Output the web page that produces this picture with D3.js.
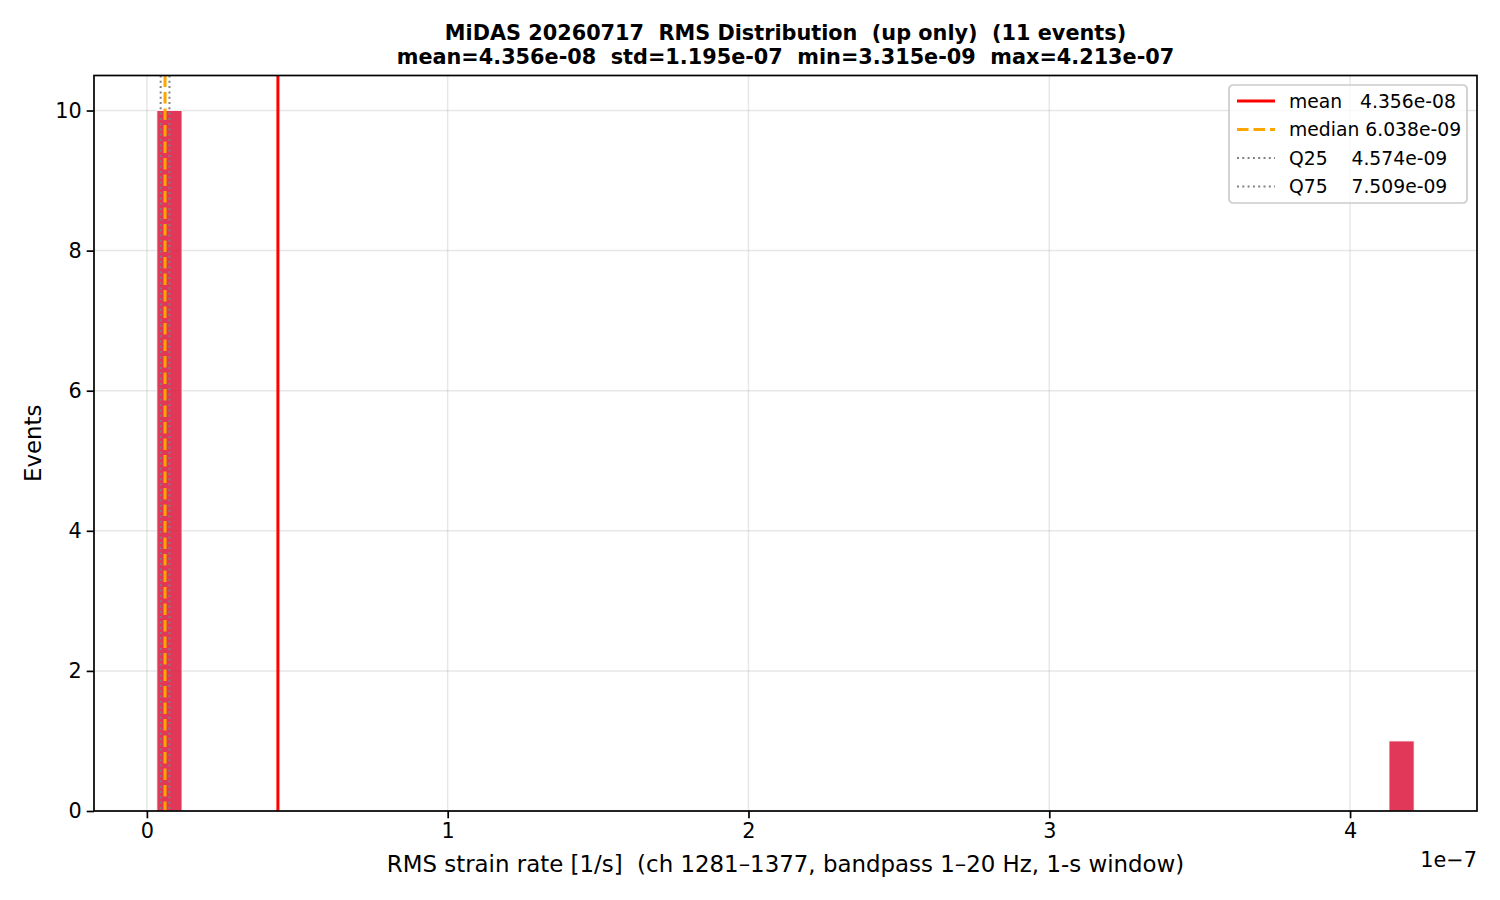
<!DOCTYPE html>
<html>
<head>
<meta charset="utf-8">
<script src="https://cdn.jsdelivr.net/npm/d3@7"></script>
<style>
  html, body { margin: 0; padding: 0; background: #fff; }
  svg { display: block; font-family: "DejaVu Sans", sans-serif; }
  text { white-space: pre; }
</style>
</head>
<body>
<div id="chart"></div>
<script>
(function () {

  // ── Data ───────────────────────────────────────────────────────────────
  var TITLE_LINES = [
    "MiDAS 20260717  RMS Distribution  (up only)  (11 events)",
    "mean=4.356e-08  std=1.195e-07  min=3.315e-09  max=4.213e-07"
  ];
  var X_LABEL = "RMS strain rate [1/s]  (ch 1281\u20131377, bandpass 1\u201320 Hz, 1-s window)";
  var Y_LABEL = "Events";

  // histogram: 50 equal bins between min and max
  var BIN_MIN = 3.315e-9;
  var BIN_MAX = 4.213e-7;
  var BIN_COUNTS = [10, 0, 0, 0, 0, 0, 0, 0, 0, 0,
                    0, 0, 0, 0, 0, 0, 0, 0, 0, 0,
                    0, 0, 0, 0, 0, 0, 0, 0, 0, 0,
                    0, 0, 0, 0, 0, 0, 0, 0, 0, 0,
                    0, 0, 0, 0, 0, 0, 0, 0, 0, 1];

  var STAT_NAMES  = ["mean", "median", "Q25", "Q75"];
  var STAT_VALUES = [4.356e-8, 6.038e-9, 4.574e-9, 7.509e-9];
  var STAT_LABELS = ["mean   4.356e-08", "median 6.038e-09", "Q25    4.574e-09", "Q75    7.509e-09"];

  var X_TICKS = [0, 1e-7, 2e-7, 3e-7, 4e-7];
  var X_TICK_LABELS = ["0", "1", "2", "3", "4"];
  var Y_TICKS = [0, 2, 4, 6, 8, 10];

  // ── Layout ─────────────────────────────────────────────────────────────
  var W = 1500, H = 900;
  var M = { left: 94, right: 1477, top: 75.5, bottom: 811 };

  var svg = d3.select("#chart").append("svg")
    .attr("width", W).attr("height", H);

  var span = BIN_MAX - BIN_MIN;
  var x = d3.scaleLinear()
    .domain([BIN_MIN - 0.05 * span, BIN_MAX + 0.05 * span])
    .range([M.left, M.right]);
  var y = d3.scaleLinear()
    .domain([0, d3.max(BIN_COUNTS) * 1.05])
    .range([M.bottom, M.top]);

  var binW = span / BIN_COUNTS.length;
  var bins = BIN_COUNTS.map(function (c, i) {
    return { x0: BIN_MIN + i * binW, x1: BIN_MIN + (i + 1) * binW, n: c };
  }).filter(function (b) { return b.n > 0; });

  // ── Grid ───────────────────────────────────────────────────────────────
  var grid = svg.append("g").attr("class", "grid")
    .attr("stroke", "#b0b0b0").attr("stroke-opacity", 0.3).attr("stroke-width", 1.5);
  grid.selectAll("line.gx").data(X_TICKS).join("line").attr("class", "gx")
    .attr("x1", function (d) { return x(d); }).attr("x2", function (d) { return x(d); })
    .attr("y1", M.top).attr("y2", M.bottom);
  grid.selectAll("line.gy").data(Y_TICKS).join("line").attr("class", "gy")
    .attr("x1", M.left).attr("x2", M.right)
    .attr("y1", function (d) { return y(d); }).attr("y2", function (d) { return y(d); });

  // ── Bars ───────────────────────────────────────────────────────────────
  svg.append("g").selectAll("rect").data(bins).join("rect")
    .attr("x", function (d) { return x(d.x0); })
    .attr("width", function (d) { return x(d.x1) - x(d.x0); })
    .attr("y", function (d) { return y(d.n); })
    .attr("height", function (d) { return y(0) - y(d.n); })
    .attr("fill", "#dc143c").attr("fill-opacity", 0.85)
    .attr("stroke", "#fff").attr("stroke-width", 1).attr("stroke-opacity", 0.85);

  // ── Stat lines ─────────────────────────────────────────────────────────
  var STAT_STYLE = {
    mean:   { color: "#ff0000", width: 3,   dash: null },
    median: { color: "#ffa500", width: 3,   dash: "11.5,5" },
    Q25:    { color: "#808080", width: 2,   dash: "2,3.3" },
    Q75:    { color: "#808080", width: 2,   dash: "2,3.3" }
  };
  var stats = STAT_NAMES.map(function (n, i) {
    return { name: n, v: STAT_VALUES[i], label: STAT_LABELS[i], s: STAT_STYLE[n] };
  });
  svg.append("g").selectAll("line").data(stats).join("line")
    .attr("x1", function (d) { return x(d.v); }).attr("x2", function (d) { return x(d.v); })
    .attr("y1", M.top).attr("y2", M.bottom)
    .attr("stroke", function (d) { return d.s.color; })
    .attr("stroke-width", function (d) { return d.s.width; })
    .attr("stroke-dasharray", function (d) { return d.s.dash; });

  // ── Axes ───────────────────────────────────────────────────────────────
  var xAxis = d3.axisBottom(x).tickValues(X_TICKS)
    .tickFormat(function (d, i) { return X_TICK_LABELS[i]; })
    .tickSize(7.3).tickPadding(5);
  var yAxis = d3.axisLeft(y).tickValues(Y_TICKS)
    .tickFormat(d3.format("d")).tickSize(7.3).tickPadding(5);

  var gx = svg.append("g").attr("transform", "translate(0," + M.bottom + ")").call(xAxis);
  var gy = svg.append("g").attr("transform", "translate(" + M.left + ",0)").call(yAxis);
  [gx, gy].forEach(function (g) {
    g.select(".domain").remove();
    g.selectAll(".tick line").attr("stroke", "#000").attr("stroke-width", 1.7);
    g.selectAll(".tick text").attr("fill", "#000")
      .attr("font-size", "20.8px").attr("font-family", "DejaVu Sans");
  });

  // spines
  svg.append("rect")
    .attr("x", M.left).attr("y", M.top)
    .attr("width", M.right - M.left).attr("height", M.bottom - M.top)
    .attr("fill", "none").attr("stroke", "#000").attr("stroke-width", 1.7);

  // offset text
  svg.append("text")
    .attr("x", M.right).attr("y", 867)
    .attr("text-anchor", "end").attr("font-size", "20.8px")
    .text("1e\u22127");

  // axis labels
  svg.append("text")
    .attr("x", (M.left + M.right) / 2).attr("y", 872)
    .attr("text-anchor", "middle").attr("font-size", "22.9px")
    .text(X_LABEL);
  svg.append("text")
    .attr("transform", "translate(41," + ((M.top + M.bottom) / 2) + ") rotate(-90)")
    .attr("text-anchor", "middle").attr("font-size", "22.9px")
    .text(Y_LABEL);

  // title
  svg.append("g").selectAll("text").data(TITLE_LINES).join("text")
    .attr("x", (M.left + M.right) / 2)
    .attr("y", function (d, i) { return 40 + i * 23.5; })
    .attr("text-anchor", "middle")
    .attr("font-size", "20.8px").attr("font-weight", "bold")
    .text(function (d) { return d; });

  // ── Legend ─────────────────────────────────────────────────────────────
  var lgd = svg.append("g").attr("transform", "translate(1229,85)");
  lgd.append("rect")
    .attr("x", 0).attr("y", 0).attr("width", 238).attr("height", 118)
    .attr("rx", 4)
    .attr("fill", "#fff").attr("fill-opacity", 0.8)
    .attr("stroke", "#cccccc").attr("stroke-width", 1.7);
  var rows = lgd.selectAll("g.row").data(stats).join("g").attr("class", "row")
    .attr("transform", function (d, i) { return "translate(0," + (16 + i * 28.5) + ")"; });
  rows.append("line")
    .attr("x1", 8).attr("x2", 46).attr("y1", 0).attr("y2", 0)
    .attr("stroke", function (d) { return d.s.color; })
    .attr("stroke-width", function (d) { return d.s.width; })
    .attr("stroke-dasharray", function (d) { return d.s.dash; });
  rows.append("text")
    .attr("x", 60).attr("y", 6.5)
    .attr("font-size", "18.75px").attr("fill", "#000")
    .text(function (d) { return d.label; });

})();
</script>
</body>
</html>
